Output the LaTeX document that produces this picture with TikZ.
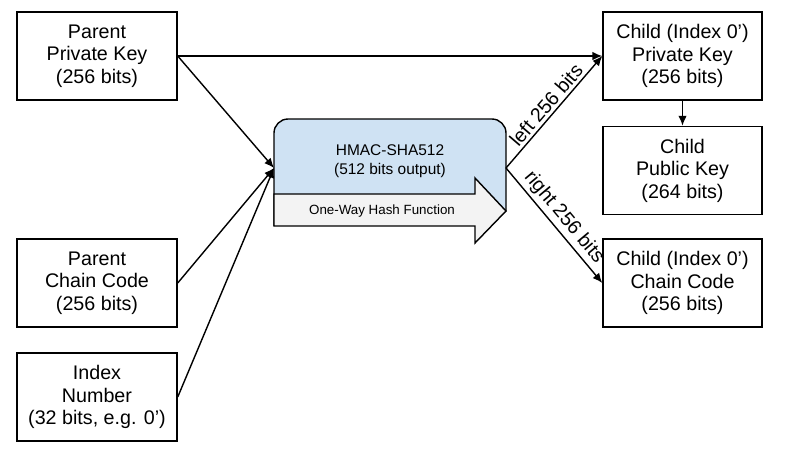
\documentclass[tikz,border=0pt]{standalone}
\usepackage{fontspec}
\setmainfont{Liberation Sans}
\usetikzlibrary{arrows.meta,positioning}
\definecolor{hmacblue}{RGB}{207,226,243}
\definecolor{hashgray}{RGB}{243,243,243}
\begin{document}
\begin{tikzpicture}[x=0.025cm,y=-0.025cm,>={Latex[length=7pt,width=6pt]},
blk/.style={draw,line width=1pt,minimum width=4cm,minimum height=2.2cm,align=center,inner sep=0pt,font=\fontsize{14}{16}\selectfont},
link/.style={line width=1pt,->},
lbl/.style={font=\fontsize{14}{16}\selectfont,sloped,above,midway,inner sep=2pt}]
\useasboundingbox (0,0) rectangle (793,455);
\node[blk] (ppk) at (97,56) {Parent\\Private Key\\(256 bits)};
\node[blk] (pcc) at (97,283) {Parent\\Chain Code\\(256 bits)};
\node[blk] (idx) at (97,397) {Index\\Number\\(32 bits, e.g. 0’)};
\node[blk,minimum width=3.975cm] (cpk) at (682.5,56) {Child (Index 0’)\\Private Key\\(256 bits)};
\node[blk,minimum width=3.975cm,below=0.625cm of cpk] (cpub) {Child\\Public Key\\(264 bits)};
\node[blk,minimum width=3.975cm] (ccc) at (682.5,283) {Child (Index 0’)\\Chain Code\\(256 bits)};
% hash block
\filldraw[fill=hmacblue,line width=1pt,rounded corners=10pt] (274,226) -- (274,119) -- (506,119) -- (506,211);
\filldraw[fill=hashgray,line width=1pt,line join=miter] (274,194) -- (475,194) -- (475,178) -- (506,211) -- (475,243) -- (475,226) -- (274,226) -- cycle;
\node[font=\fontsize{11}{13.5}\selectfont,align=center] (hmac) at (390,161) {HMAC-SHA512\\(512 bits output)};
\node[font=\fontsize{9.5}{11}\selectfont] (owhf) at (382,211) {One-Way Hash Function};
\coordinate (hin) at (274,168);
\coordinate (hout) at (506,168);
% inputs
\draw[link] (ppk.east) -- (cpk.west);
\draw[link] (ppk.east) -- (hin);
\draw[link] (pcc.east) -- (hin);
\draw[link] (idx.east) -- (hin);
% outputs
\draw[link] (hout) -- node[lbl]{left 256 bits} (cpk.west);
\draw[link] (hout) -- node[lbl]{right 256 bits} (ccc.west);
\draw[link] (cpk) -- (cpub);
\end{tikzpicture}
\end{document}
